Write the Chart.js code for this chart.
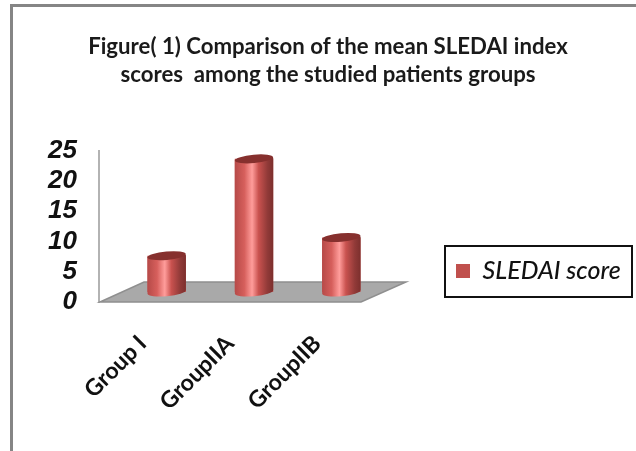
<!DOCTYPE html>
<html>
<head>
<meta charset="utf-8">
<style>
html,body{margin:0;padding:0;background:#fff;overflow:hidden}
#wrap{position:absolute;left:0;top:0;width:636px;height:451px}
canvas{filter:blur(0.45px)}
</style>
<script src="https://cdn.jsdelivr.net/npm/chart.js@4"></script>
</head>
<body>
<div id="wrap"><canvas id="c" width="636" height="451"></canvas></div>
<script>
const titleLines = ['Figure( 1) Comparison of the mean SLEDAI index', 'scores  among the studied patients groups'];
const categories = ['Group I', 'GroupIIA', 'GroupIIB'];
const seriesName = 'SLEDAI score';
const sledaiValues = [6, 22, 9];
const yTicks = [0, 5, 10, 15, 20, 25];

const barShift = {x: 24, y: -10};
const floorDepth = {x: 45, y: -20};

const scene = {
  id: 'scene',
  afterLayout(chart) {
    const l = chart.legend;
    const w = l.width, h = l.height;
    l.left = 442; l.right = l.left + w;
    l.top = 271 - h / 2; l.bottom = l.top + h;
  },
  beforeDraw(chart) {
    const c = chart.ctx;
    c.save();
    c.fillStyle = '#fff';
    c.fillRect(0, 0, chart.width, chart.height);
    c.strokeStyle = '#858585';
    c.lineWidth = 3;
    c.beginPath();
    c.moveTo(11.5, chart.height);
    c.lineTo(11.5, 5.5);
    c.lineTo(chart.width, 5.5);
    c.stroke();
    c.restore();
  },
  beforeDatasetsDraw(chart) {
    const c = chart.ctx, a = chart.chartArea;
    c.save();
    c.beginPath();
    c.moveTo(a.left + 1, a.bottom);
    c.lineTo(a.left + floorDepth.x, a.bottom + floorDepth.y);
    c.lineTo(a.right + floorDepth.x, a.bottom + floorDepth.y);
    c.lineTo(a.right, a.bottom);
    c.closePath();
    c.fillStyle = '#a9a9a9';
    c.fill();
    c.strokeStyle = '#8f8f8f';
    c.lineWidth = 1.5;
    c.stroke();
    c.restore();
  },
  beforeDatasetDraw(chart) {
    chart.ctx.save();
    chart.ctx.translate(barShift.x, barShift.y);
  },
  afterDatasetDraw(chart) {
    const c = chart.ctx;
    chart.getDatasetMeta(0).data.forEach(el => {
      const rx = el.width / 2, ry = 4.2, tilt = -0.09;
      const g = c.createLinearGradient(el.x - rx, 0, el.x + rx, 0);
      g.addColorStop(0, '#b64a48');
      g.addColorStop(0.25, '#d65f5c');
      g.addColorStop(0.45, '#ff9d9b');
      g.addColorStop(0.62, '#c9524f');
      g.addColorStop(0.85, '#913a38');
      g.addColorStop(1, '#7c2f2d');
      c.fillStyle = g;
      c.beginPath();
      c.moveTo(el.x - rx, el.y + 1);
      c.lineTo(el.x + rx, el.y - 1);
      c.lineTo(el.x + rx, el.base - 2);
      c.ellipse(el.x, el.base, rx, ry, tilt, 0, Math.PI);
      c.closePath();
      c.fill();
      c.fillStyle = '#86302e';
      c.beginPath();
      c.ellipse(el.x, el.y, rx, ry, tilt, 0, Math.PI * 2);
      c.fill();
    });
    c.restore();
  },
  afterDraw(chart) {
    const c = chart.ctx, h = chart.legend.legendHitBoxes[0];
    c.save();
    c.strokeStyle = '#111';
    c.lineWidth = 2;
    c.strokeRect(h.left - 11, h.top + h.height / 2 - 25, 187, 51);
    c.restore();
  }
};

new Chart(document.getElementById('c'), {
  type: 'bar',
  data: {
    labels: categories,
    datasets: [{
      label: seriesName,
      data: sledaiValues,
      backgroundColor: '#c0504d',
      borderWidth: 0,
      barPercentage: 0.44,
      categoryPercentage: 1
    }]
  },
  plugins: [scene],
  options: {
    responsive: false,
    animation: false,
    layout: {padding: {left: 24, right: 4, top: 32, bottom: 0}},
    plugins: {
      title: {
        display: true,
        text: titleLines,
        color: '#1a1a1a',
        font: {family: 'Lato', size: 22.2, weight: 'bold', lineHeight: 1.3},
        padding: {top: 0, bottom: 61}
      },
      legend: {
        position: 'right',
        align: 'center',
        maxWidth: 187,
        labels: {
          boxWidth: 14,
          boxHeight: 14,
          padding: 14,
          color: '#111',
          font: {family: 'Lato', size: 25, style: 'italic', weight: '500'}
        }
      },
      tooltip: {enabled: false}
    },
    scales: {
      x: {
        grid: {display: false},
        border: {display: false},
        afterFit(s) { s.height = 149; },
        ticks: {
          color: '#111',
          maxRotation: 45,
          minRotation: 45,
          padding: 20,
          font: {family: 'Lato', size: 23, weight: 'bold'}
        }
      },
      y: {
        min: 0,
        max: 25,
        afterFit(s) { s.width = 75; },
        afterBuildTicks(s) { s.ticks = yTicks.map(v => ({value: v})); },
        grid: {display: false},
        border: {display: true, color: '#b3b3b3', width: 2},
        ticks: {
          color: '#111',
          padding: 14,
          autoSkip: false,
          font: {family: '"Liberation Sans"', size: 26, style: 'italic', weight: 'bold'}
        }
      },
      gap: {
        position: 'right',
        display: true,
        grid: {display: false},
        border: {display: false},
        ticks: {display: false},
        afterFit(s) { s.width = 84; }
      }
    }
  }
});
</script>
</body>
</html>
